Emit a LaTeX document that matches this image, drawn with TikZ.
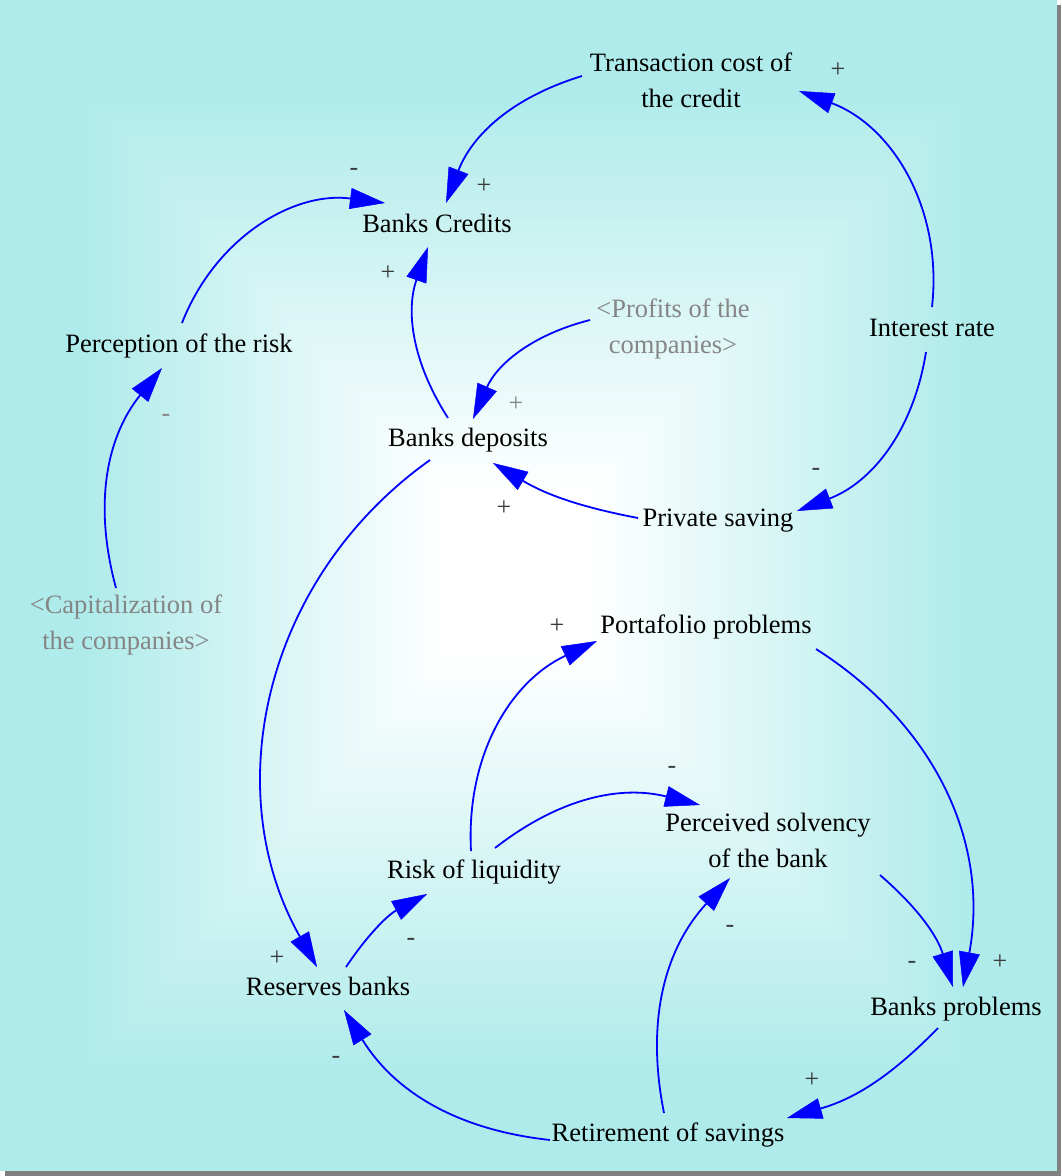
\documentclass[tikz,border=0pt]{standalone}
\usepackage{fontspec}
\setmainfont{Liberation Serif}
\usetikzlibrary{arrows.meta}

\definecolor{bgedge}{HTML}{AEEBEA}
\definecolor{linkblue}{HTML}{0000FF}
\definecolor{shadowtxt}{HTML}{858585}
\definecolor{signdark}{HTML}{3A3A3A}
\definecolor{frameshadow}{HTML}{808080}

\tikzset{
  var/.style={font=\fontsize{26.5}{36}\selectfont, inner sep=0pt,
              text height=24pt, text depth=6.4pt},
  var2/.style={font=\fontsize{26.5}{36}\selectfont, inner sep=0pt, align=center},
  shadowvar/.style={var2, text=shadowtxt},
  link/.style={draw=linkblue, line width=1.8pt,
               -{Triangle[length=35pt,width=21pt,line width=0.5pt]}},
  pol/.style={font=\fontsize{26}{26}\selectfont, text=signdark, inner sep=0pt},
  polgray/.style={pol, text=shadowtxt},
}

\begin{document}
\begin{tikzpicture}[x=1pt,y=1pt]
\useasboundingbox (0,0) rectangle (1061,-1176);

% drop shadow of the canvas
\fill[frameshadow] (5,-1171) rectangle (1061,-1176);
\fill[frameshadow] (1057,-5) rectangle (1061,-1176);

% rectangular gradient background: cyan at the rim, white in the middle
\def\W{1057}\def\H{1171}\def\cx{515}\def\cy{570}
\foreach \i in {0,...,69} {
  \pgfmathsetmacro\s{1-\i/70}
  \pgfmathsetmacro\w{max(0,min(100,120*(1-\s/0.85)))}
  \fill[white!\w!bgedge] ({\cx-\s*\cx},{-(\cy-\s*\cy)})
       rectangle ({\cx+\s*(\W-\cx)},{-(\cy+\s*(\H-\cy))});
}

% variables
\node[var2]      (tc)  at (691,-80)   {Transaction cost of\\the credit};
\node[var]       (bc)  at (437,-224)  {Banks Credits};
\node[var]       (pr)  at (179,-344)  {Perception of the risk};
\node[shadowvar] (pf)  at (673,-329)  {<Profits of the\\companies>};
\node[var]       (ir)  at (932,-328)  {Interest rate};
\node[var]       (bd)  at (468,-438)  {Banks deposits};
\node[var]       (ps)  at (718,-518)  {Private saving};
\node[shadowvar] (cap) at (126,-625)  {<Capitalization of\\the companies>};
\node[var]       (pp)  at (706,-625)  {Portafolio problems};
\node[var2]      (sol) at (768,-840)  {Perceived solvency\\of the bank};
\node[var]       (rl)  at (474,-870)  {Risk of liquidity};
\node[var]       (rb)  at (328,-987)  {Reserves banks};
\node[var]       (bp)  at (956,-1007) {Banks problems};
\node[var]       (rs)  at (668,-1133) {Retirement of savings};

% causal links
\draw[link] ([shift={(-109,4)}]tc.center)  to[bend right=26] ([shift={(9,21)}]bc.center);
\draw[link] ([shift={(0,21)}]ir.center)    to[bend right=38] ([shift={(108,-11)}]tc.center);
\draw[link] ([shift={(-6,-24)}]ir.center)  to[bend left=30]  ([shift={(79,7)}]ps.center);
\draw[link] ([shift={(-80,0)}]ps.center)   to[bend left=10]  ([shift={(25,-25)}]bd.center);
\draw[link] ([shift={(-83,9)}]pf.center)   to[bend right=26] ([shift={(5,19)}]bd.center);
\draw[link] ([shift={(-20,20)}]bd.center)  to[bend left=26]  ([shift={(-9,-23)}]bc.center);
\draw[link] ([shift={(3,21)}]pr.center)    to[bend left=38]  ([shift={(-52,21)}]bc.center);
\draw[link] ([shift={(-10,37)}]cap.center) to[bend left=27]  ([shift={(-17,-24)}]pr.center);
\draw[link] ([shift={(-38,-22)}]bd.center) to[bend right=42] ([shift={(-11,20)}]rb.center);
\draw[link] ([shift={(18,20)}]rb.center)   to[bend left=14]  ([shift={(-47,-24)}]rl.center);
\draw[link] ([shift={(-3,19)}]rl.center)   to[bend left=34]  ([shift={(-109,-16)}]pp.center);
\draw[link] ([shift={(21,22)}]rl.center)   to[bend left=26]  ([shift={(-68,35)}]sol.center);
\draw[link] ([shift={(110,-24)}]pp.center) to[bend left=34]  ([shift={(7,20)}]bp.center);
\draw[link] ([shift={(112,-35)}]sol.center) to[bend left=16] ([shift={(-3,20)}]bp.center);
\draw[link] ([shift={(-18,-21)}]bp.center) to[bend left=15]  ([shift={(119,15)}]rs.center);
\draw[link] ([shift={(-118,-7)}]rs.center) to[bend left=26]  ([shift={(16,-23)}]rb.center);
\draw[link] ([shift={(-4,20)}]rs.center)   to[bend left=27]  ([shift={(-38,-38)}]sol.center);

% link polarities
\node[pol]     (sA) at (484,-186)  {+};
\node[pol]     (sB) at (838,-70)   {+};
\node[pol]     (sC) at (816,-472)  {-};
\node[pol]     (sD) at (504,-508)  {+};
\node[polgray] (sE) at (516,-404)  {+};
\node[pol]     (sF) at (388,-273)  {+};
\node[pol]     (sG) at (354,-172)  {-};
\node[polgray] (sH) at (166,-418)  {-};
\node[pol]     (sI) at (277,-958)  {+};
\node[pol]     (sJ) at (411,-942)  {-};
\node[pol]     (sK) at (557,-626)  {+};
\node[pol]     (sL) at (672,-770)  {-};
\node[pol]     (sM) at (1000,-962) {+};
\node[pol]     (sN) at (912,-965)  {-};
\node[pol]     (sO) at (812,-1080) {+};
\node[pol]     (sP) at (336,-1060) {-};
\node[pol]     (sQ) at (730,-929)  {-};
\end{tikzpicture}
\end{document}
